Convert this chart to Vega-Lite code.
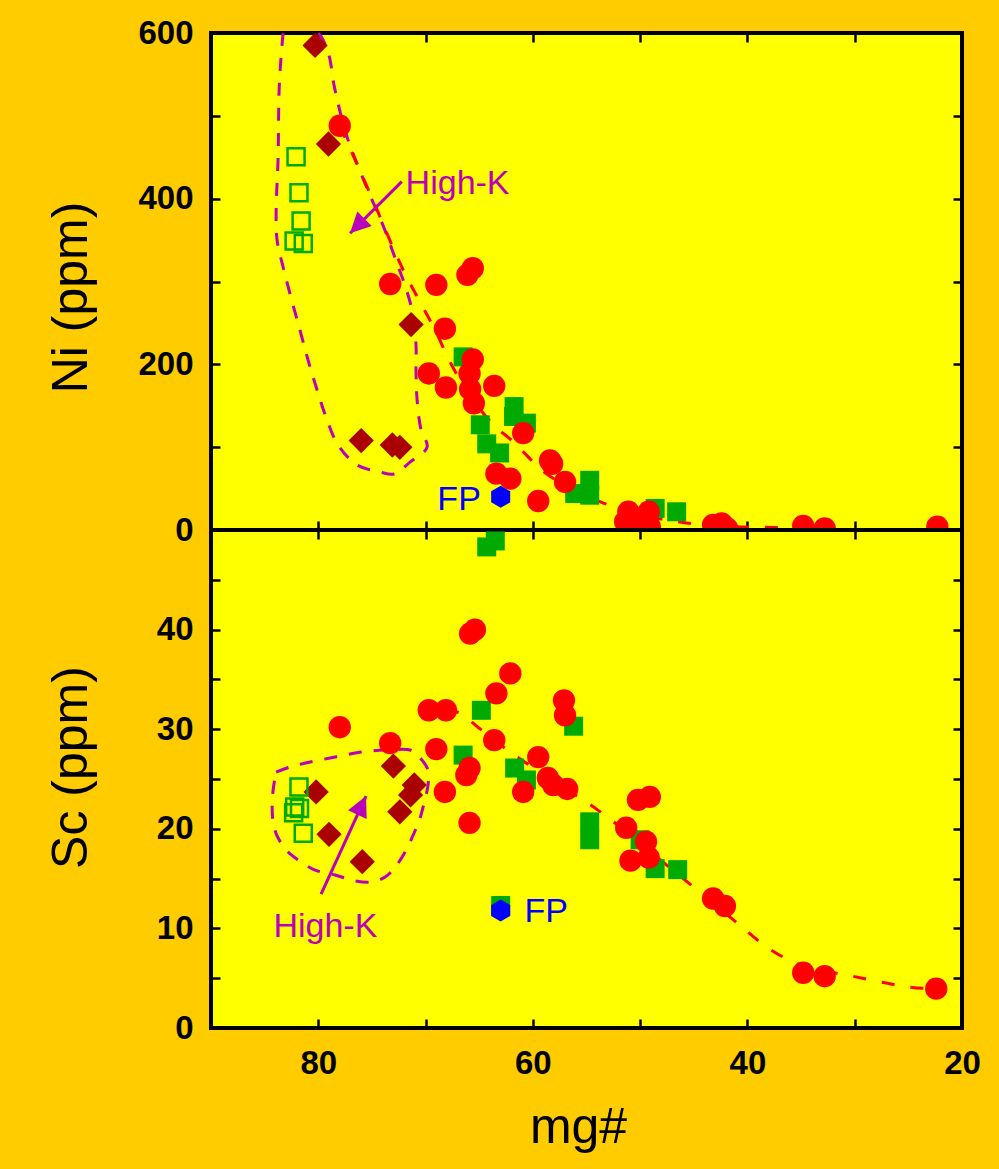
{
  "$schema": "https://vega.github.io/schema/vega-lite/v6.json",
  "autosize": "none",
  "bounds": "flush",
  "padding": {"left": 211, "top": 33, "right": 788, "bottom": 1136},
  "background": "#FFCC00",
  "config": {
    "view": {"fill": "#FFFF00", "stroke": "black", "strokeWidth": 4},
    "concat": {"spacing": 0},
    "axis": {
      "labelFont": "Liberation Sans", "labelFontSize": 33, "labelFontWeight": "bold", "labelColor": "black",
      "tickColor": "black", "tickWidth": 2.5, "tickSize": -9, "domain": false, "grid": false,
      "titleFont": "Liberation Sans", "titleFontSize": 50, "titleFontWeight": "normal", "titleColor": "black",
      "labelPadding": 27, "labelOverlap": false, "labelFlush": false
    }
  },
  "datasets": {
    "ni": [
      {"mg": 66.5, "v": 209, "g": "gs"}, {"mg": 64.9, "v": 127, "g": "gs"}, {"mg": 64.3, "v": 104, "g": "gs"}, {"mg": 63.1, "v": 93, "g": "gs"},
      {"mg": 61.75, "v": 149, "g": "gs"}, {"mg": 61.8, "v": 137, "g": "gs"}, {"mg": 60.6, "v": 129, "g": "gs"}, {"mg": 54.7, "v": 60, "g": "gs"},
      {"mg": 56.1, "v": 44, "g": "gs"}, {"mg": 54.7, "v": 42, "g": "gs"}, {"mg": 48.6, "v": 26, "g": "gs"}, {"mg": 46.6, "v": 22, "g": "gs"},
      {"mg": 80.3, "v": 585, "g": "dm"}, {"mg": 79.05, "v": 466, "g": "dm"}, {"mg": 71.35, "v": 248, "g": "dm"}, {"mg": 76.0, "v": 108, "g": "dm"},
      {"mg": 73.1, "v": 102.6, "g": "dm"}, {"mg": 72.4, "v": 99.8, "g": "dm"},
      {"mg": 78.0, "v": 488, "g": "rc"}, {"mg": 73.3, "v": 297, "g": "rc"}, {"mg": 69.0, "v": 296, "g": "rc"}, {"mg": 66.1, "v": 308, "g": "rc"},
      {"mg": 65.6, "v": 316, "g": "rc"}, {"mg": 68.2, "v": 243, "g": "rc"}, {"mg": 69.7, "v": 189, "g": "rc"}, {"mg": 68.1, "v": 172, "g": "rc"},
      {"mg": 65.6, "v": 206, "g": "rc"}, {"mg": 65.9, "v": 189, "g": "rc"}, {"mg": 65.85, "v": 170, "g": "rc"}, {"mg": 65.5, "v": 153, "g": "rc"},
      {"mg": 63.6, "v": 174, "g": "rc"}, {"mg": 60.9, "v": 117, "g": "rc"}, {"mg": 63.4, "v": 68, "g": "rc"}, {"mg": 62.1, "v": 62, "g": "rc"},
      {"mg": 59.5, "v": 35, "g": "rc"}, {"mg": 58.4, "v": 84, "g": "rc"}, {"mg": 58.2, "v": 80, "g": "rc"}, {"mg": 57.0, "v": 58, "g": "rc"},
      {"mg": 51.1, "v": 22, "g": "rc"}, {"mg": 49.2, "v": 22, "g": "rc"}, {"mg": 51.4, "v": 10, "g": "rc"}, {"mg": 50.0, "v": 8, "g": "rc"},
      {"mg": 49.1, "v": 4, "g": "rc"}, {"mg": 43.2, "v": 6, "g": "rc"}, {"mg": 42.4, "v": 8, "g": "rc"}, {"mg": 41.9, "v": 2, "g": "rc"},
      {"mg": 34.8, "v": 5, "g": "rc"}, {"mg": 32.8, "v": 2, "g": "rc"}, {"mg": 22.3, "v": 4, "g": "rc"},
      {"mg": 63.0, "v": 40, "g": "fp"}
    ],
    "niOpen": [
      {"mg": 82.07, "v": 450.7}, {"mg": 81.8, "v": 407}, {"mg": 81.6, "v": 373}, {"mg": 82.25, "v": 349}, {"mg": 81.4, "v": 346}
    ],
    "sc": [
      {"mg": 64.8, "v": 31.9, "g": "gs"}, {"mg": 66.5, "v": 27.4, "g": "gs"}, {"mg": 61.7, "v": 26.1, "g": "gs"}, {"mg": 60.6, "v": 24.9, "g": "gs"},
      {"mg": 56.2, "v": 30.3, "g": "gs"}, {"mg": 54.7, "v": 20.7, "g": "gs"}, {"mg": 54.7, "v": 18.9, "g": "gs"}, {"mg": 50.0, "v": 18.9, "g": "gs"},
      {"mg": 48.6, "v": 16.0, "g": "gs"}, {"mg": 46.5, "v": 15.9, "g": "gs"}, {"mg": 63.0, "v": 12.3, "g": "gs"},
      {"mg": 63.5, "v": 48.9, "g": "gs"}, {"mg": 64.3, "v": 48.3, "g": "gs"},
      {"mg": 80.2, "v": 23.7, "g": "dm"}, {"mg": 79.0, "v": 19.45, "g": "dm"}, {"mg": 75.9, "v": 16.7, "g": "dm"}, {"mg": 73.0, "v": 26.3, "g": "dm"},
      {"mg": 71.05, "v": 24.4, "g": "dm"}, {"mg": 71.4, "v": 23.4, "g": "dm"}, {"mg": 72.4, "v": 21.7, "g": "dm"},
      {"mg": 78.0, "v": 30.2, "g": "rc"}, {"mg": 73.3, "v": 28.6, "g": "rc"}, {"mg": 69.7, "v": 31.9, "g": "rc"}, {"mg": 68.1, "v": 31.9, "g": "rc"},
      {"mg": 69.0, "v": 28.0, "g": "rc"}, {"mg": 68.2, "v": 23.7, "g": "rc"}, {"mg": 65.85, "v": 39.6, "g": "rc"}, {"mg": 65.4, "v": 40.0, "g": "rc"},
      {"mg": 62.1, "v": 35.6, "g": "rc"}, {"mg": 63.4, "v": 33.6, "g": "rc"}, {"mg": 63.6, "v": 28.9, "g": "rc"}, {"mg": 65.9, "v": 26.1, "g": "rc"},
      {"mg": 66.2, "v": 25.4, "g": "rc"}, {"mg": 65.9, "v": 20.6, "g": "rc"}, {"mg": 59.5, "v": 27.2, "g": "rc"}, {"mg": 60.9, "v": 23.7, "g": "rc"},
      {"mg": 58.6, "v": 25.1, "g": "rc"}, {"mg": 58.1, "v": 24.4, "g": "rc"}, {"mg": 56.8, "v": 24.0, "g": "rc"}, {"mg": 57.1, "v": 32.9, "g": "rc"},
      {"mg": 57.0, "v": 31.4, "g": "rc"}, {"mg": 50.2, "v": 22.9, "g": "rc"}, {"mg": 49.1, "v": 23.2, "g": "rc"}, {"mg": 51.3, "v": 20.1, "g": "rc"},
      {"mg": 49.45, "v": 18.7, "g": "rc"}, {"mg": 50.9, "v": 16.8, "g": "rc"}, {"mg": 49.2, "v": 17.1, "g": "rc"}, {"mg": 43.2, "v": 13.0, "g": "rc"},
      {"mg": 42.1, "v": 12.25, "g": "rc"}, {"mg": 34.8, "v": 5.55, "g": "rc"}, {"mg": 32.8, "v": 5.2, "g": "rc"}, {"mg": 22.4, "v": 3.95, "g": "rc"},
      {"mg": 63.0, "v": 11.8, "g": "fp"}
    ],
    "scOpen": [
      {"mg": 81.8, "v": 24.2}, {"mg": 82.2, "v": 22.2}, {"mg": 81.75, "v": 22.05}, {"mg": 82.3, "v": 21.6}, {"mg": 81.4, "v": 19.55}
    ],
    "niTrend": [
      {"o": 1, "mg": 78.0, "v": 488}, {"o": 2, "mg": 75.2, "v": 407}, {"o": 3, "mg": 71.9, "v": 309}, {"o": 4, "mg": 70.5, "v": 275},
      {"o": 5, "mg": 69.1, "v": 241}, {"o": 6, "mg": 67.8, "v": 205}, {"o": 7, "mg": 64.1, "v": 133}, {"o": 8, "mg": 61.7, "v": 105},
      {"o": 9, "mg": 59.05, "v": 71}, {"o": 10, "mg": 55.9, "v": 47}, {"o": 11, "mg": 53.7, "v": 34}, {"o": 12, "mg": 47.9, "v": 13},
      {"o": 13, "mg": 45.7, "v": 8.5}, {"o": 14, "mg": 40.4, "v": 3.6}, {"o": 15, "mg": 36.5, "v": 3}
    ],
    "scTrend": [
      {"o": 1, "mg": 68.1, "v": 31.9}, {"o": 2, "mg": 67.0, "v": 31.7}, {"o": 3, "mg": 65.0, "v": 30.1}, {"o": 4, "mg": 62.1, "v": 27.7},
      {"o": 5, "mg": 59.8, "v": 26.0}, {"o": 6, "mg": 54.1, "v": 22.0}, {"o": 7, "mg": 46.1, "v": 15.1}, {"o": 8, "mg": 40.9, "v": 10.5},
      {"o": 9, "mg": 38.3, "v": 8.2}, {"o": 10, "mg": 35.7, "v": 6.6}, {"o": 11, "mg": 30.2, "v": 5.2}, {"o": 12, "mg": 27.5, "v": 4.6},
      {"o": 13, "mg": 24.8, "v": 4.1}, {"o": 14, "mg": 22.3, "v": 3.9}
    ],
    "niEnv": [
      {"o": 1, "mg": 83.28, "v": 600}, {"o": 2, "mg": 83.47, "v": 571}, {"o": 3, "mg": 83.65, "v": 531}, {"o": 4, "mg": 83.75, "v": 447},
      {"o": 5, "mg": 83.93, "v": 386}, {"o": 6, "mg": 83.84, "v": 350}, {"o": 7, "mg": 83.28, "v": 317.5}, {"o": 8, "mg": 82.53, "v": 280},
      {"o": 9, "mg": 81.7, "v": 241}, {"o": 10, "mg": 80.95, "v": 205}, {"o": 11, "mg": 80.11, "v": 169}, {"o": 12, "mg": 79.27, "v": 136},
      {"o": 13, "mg": 78.15, "v": 102.6}, {"o": 14, "mg": 76.38, "v": 78.5}, {"o": 15, "mg": 74.24, "v": 70}, {"o": 16, "mg": 72.94, "v": 67.6},
      {"o": 17, "mg": 71.45, "v": 82}, {"o": 18, "mg": 69.86, "v": 100}, {"o": 19, "mg": 70.42, "v": 120.7}, {"o": 20, "mg": 70.79, "v": 157},
      {"o": 21, "mg": 70.89, "v": 190.8}, {"o": 22, "mg": 70.89, "v": 223}, {"o": 23, "mg": 71.17, "v": 259.6}, {"o": 24, "mg": 71.83, "v": 292},
      {"o": 25, "mg": 72.67, "v": 322}, {"o": 26, "mg": 73.79, "v": 362}, {"o": 27, "mg": 75.17, "v": 404}, {"o": 28, "mg": 76.29, "v": 439},
      {"o": 29, "mg": 77.23, "v": 471}, {"o": 30, "mg": 77.97, "v": 505}, {"o": 31, "mg": 78.53, "v": 537}, {"o": 32, "mg": 79.0, "v": 573},
      {"o": 33, "mg": 79.65, "v": 594}, {"o": 34, "mg": 80.0, "v": 600}
    ],
    "scEnv": [
      {"o": 1, "mg": 83.93, "v": 25.7}, {"o": 2, "mg": 82.63, "v": 26.2}, {"o": 3, "mg": 80.76, "v": 26.71}, {"o": 4, "mg": 78.9, "v": 27.11},
      {"o": 5, "mg": 77.04, "v": 27.51}, {"o": 6, "mg": 75.17, "v": 27.81}, {"o": 7, "mg": 73.31, "v": 27.91}, {"o": 8, "mg": 71.45, "v": 27.91},
      {"o": 9, "mg": 70.51, "v": 27.11}, {"o": 10, "mg": 69.77, "v": 25.9}, {"o": 11, "mg": 69.77, "v": 24.4}, {"o": 12, "mg": 70.14, "v": 22.59},
      {"o": 13, "mg": 70.51, "v": 21.08}, {"o": 14, "mg": 71.07, "v": 19.58}, {"o": 15, "mg": 71.91, "v": 17.67}, {"o": 16, "mg": 72.75, "v": 16.27},
      {"o": 17, "mg": 73.77, "v": 15.16}, {"o": 18, "mg": 74.99, "v": 14.66}, {"o": 19, "mg": 76.57, "v": 14.76}, {"o": 20, "mg": 78.43, "v": 15.36},
      {"o": 21, "mg": 80.3, "v": 15.86}, {"o": 22, "mg": 81.88, "v": 16.87}, {"o": 23, "mg": 82.91, "v": 17.77}, {"o": 24, "mg": 83.84, "v": 19.28},
      {"o": 25, "mg": 84.21, "v": 20.68}, {"o": 26, "mg": 84.3, "v": 22.39}, {"o": 27, "mg": 84.21, "v": 23.9}, {"o": 28, "mg": 83.93, "v": 25.7}
    ],
    "niArrow": [{"mg": 72.22, "v": 420.5, "mg2": 77.04, "v2": 358.2}],
    "scArrow": [{"mg": 79.74, "v": 13.45, "mg2": 75.55, "v2": 23.29}],
    "niLabels": [{"mg": 71.86, "v": 418, "g": "High-K"}, {"mg": 68.9, "v": 36.2, "g": "FP"}],
    "scLabels": [{"mg": 84.18, "v": 10.14, "g": "High-K"}, {"mg": 60.79, "v": 11.65, "g": "FP"}]
  },
  "vconcat": [
    {
      "width": 751, "height": 497,
      "resolve": {"axis": {"x": "independent", "y": "independent"}},
      "layer": [
        {
          "data": {"name": "niEnv"},
          "mark": {"type": "line", "color": "#BB00BB", "strokeWidth": 3, "strokeDash": [13, 12], "interpolate": "catmull-rom"},
          "encoding": {
            "x": {"field": "mg", "type": "quantitative", "scale": {"domain": [20, 90], "reverse": true, "nice": false, "zero": false},
                  "axis": {"orient": "bottom", "values": [80, 70, 60, 50, 40, 30], "labels": false, "title": null}},
            "y": {"field": "v", "type": "quantitative", "scale": {"domain": [0, 600], "nice": false, "zero": false},
                  "axis": {"orient": "left", "values": [0, 100, 200, 300, 400, 500, 600], "labelExpr": "datum.value % 200 == 0 ? datum.label : ''",
                           "title": "Ni (ppm)", "titleX": -125, "titleY": 264, "titleAngle": 270, "titleAlign": "center", "titleBaseline": "alphabetic"}},
            "order": {"field": "o", "type": "quantitative"}
          }
        },
        {
          "data": {"name": "niTrend"},
          "mark": {"type": "line", "color": "#FF0000", "strokeWidth": 3, "strokeDash": [13, 16], "interpolate": "monotone"},
          "encoding": {
            "x": {"field": "mg", "type": "quantitative", "axis": {"orient": "top", "values": [80, 70, 60, 50, 40, 30], "labels": false, "title": null}},
            "y": {"field": "v", "type": "quantitative", "axis": {"orient": "right", "values": [0, 100, 200, 300, 400, 500, 600], "labels": false, "title": null}},
            "order": {"field": "o", "type": "quantitative"}
          }
        },
        {
          "data": {"name": "niArrow"},
          "mark": {"type": "rule", "color": "#BB00BB", "strokeWidth": 3},
          "encoding": {
            "x": {"field": "mg", "type": "quantitative", "axis": null}, "y": {"field": "v", "type": "quantitative", "axis": null},
            "x2": {"field": "mg2"}, "y2": {"field": "v2"}
          }
        },
        {
          "data": {"name": "niArrow"},
          "mark": {"type": "point", "shape": "M0,0L-1,2L1,2Z", "size": 420, "filled": true, "color": "#BB00BB", "opacity": 1, "angle": 225},
          "encoding": {
            "x": {"field": "mg2", "type": "quantitative", "axis": null}, "y": {"field": "v2", "type": "quantitative", "axis": null}
          }
        },
        {
          "data": {"name": "ni"},
          "mark": {"type": "point", "filled": true, "opacity": 1},
          "encoding": {
            "x": {"field": "mg", "type": "quantitative", "axis": null}, "y": {"field": "v", "type": "quantitative", "axis": null},
            "color": {"field": "g", "type": "nominal", "legend": null, "scale": {"domain": ["gs", "dm", "rc", "fp", "High-K", "FP"], "range": ["#00AA00", "#AA0000", "#FF0000", "#0000FF", "#BB00BB", "#0000FF"]}},
            "shape": {"field": "g", "type": "nominal", "legend": null, "scale": {"domain": ["gs", "dm", "rc", "fp"], "range": ["square", "diamond", "circle", "M0,-1L0.866,-0.5L0.866,0.5L0,1L-0.866,0.5L-0.866,-0.5Z"]}},
            "size": {"field": "g", "type": "nominal", "legend": null, "scale": {"type": "ordinal", "domain": ["gs", "dm", "rc", "fp"], "range": [361, 640, 500, 484]}}
          }
        },
        {
          "data": {"name": "niOpen"},
          "mark": {"type": "point", "shape": "square", "filled": false, "stroke": "#00AA00", "strokeWidth": 2.5, "size": 289, "opacity": 1},
          "encoding": {
            "x": {"field": "mg", "type": "quantitative", "axis": null}, "y": {"field": "v", "type": "quantitative", "axis": null}
          }
        },
        {
          "data": {"name": "niLabels"},
          "mark": {"type": "text", "align": "left", "baseline": "middle", "font": "Liberation Sans", "fontSize": 34},
          "encoding": {
            "x": {"field": "mg", "type": "quantitative", "axis": null}, "y": {"field": "v", "type": "quantitative", "axis": null},
            "text": {"field": "g"},
            "color": {"field": "g", "type": "nominal", "legend": null, "scale": {"domain": ["gs", "dm", "rc", "fp", "High-K", "FP"], "range": ["#00AA00", "#AA0000", "#FF0000", "#0000FF", "#BB00BB", "#0000FF"]}}
          }
        }
      ]
    },
    {
      "width": 751, "height": 498,
      "resolve": {"axis": {"x": "independent", "y": "independent"}},
      "layer": [
        {
          "data": {"name": "scEnv"},
          "mark": {"type": "line", "color": "#BB00BB", "strokeWidth": 3, "strokeDash": [13, 12], "interpolate": "catmull-rom"},
          "encoding": {
            "x": {"field": "mg", "type": "quantitative", "scale": {"domain": [20, 90], "reverse": true, "nice": false, "zero": false},
                  "axis": {"orient": "bottom", "values": [80, 70, 60, 50, 40, 30, 20], "labelExpr": "datum.value % 20 == 0 ? datum.label : ''",
                           "labelPadding": 28, "title": "mg#", "titleX": 367, "titleY": 114, "titleAlign": "center", "titleBaseline": "alphabetic"}},
            "y": {"field": "v", "type": "quantitative", "scale": {"domain": [0, 50], "nice": false, "zero": false},
                  "axis": {"orient": "left", "values": [0, 5, 10, 15, 20, 25, 30, 35, 40, 45, 50], "labelExpr": "datum.value % 10 == 0 && datum.value < 50 ? datum.label : ''",
                           "title": "Sc (ppm)", "titleX": -125, "titleY": 237, "titleAngle": 270, "titleAlign": "center", "titleBaseline": "alphabetic"}},
            "order": {"field": "o", "type": "quantitative"}
          }
        },
        {
          "data": {"name": "scTrend"},
          "mark": {"type": "line", "color": "#FF0000", "strokeWidth": 3, "strokeDash": [13, 16], "interpolate": "monotone"},
          "encoding": {
            "x": {"field": "mg", "type": "quantitative", "axis": {"orient": "top", "values": [80, 70, 60, 50, 40, 30], "labels": false, "title": null}},
            "y": {"field": "v", "type": "quantitative", "axis": {"orient": "right", "values": [0, 5, 10, 15, 20, 25, 30, 35, 40, 45, 50], "labels": false, "title": null}},
            "order": {"field": "o", "type": "quantitative"}
          }
        },
        {
          "data": {"name": "scArrow"},
          "mark": {"type": "rule", "color": "#BB00BB", "strokeWidth": 3},
          "encoding": {
            "x": {"field": "mg", "type": "quantitative", "axis": null}, "y": {"field": "v", "type": "quantitative", "axis": null},
            "x2": {"field": "mg2"}, "y2": {"field": "v2"}
          }
        },
        {
          "data": {"name": "scArrow"},
          "mark": {"type": "point", "shape": "M0,0L-1,2L1,2Z", "size": 420, "filled": true, "color": "#BB00BB", "opacity": 1, "angle": 25},
          "encoding": {
            "x": {"field": "mg2", "type": "quantitative", "axis": null}, "y": {"field": "v2", "type": "quantitative", "axis": null}
          }
        },
        {
          "data": {"name": "sc"},
          "mark": {"type": "point", "filled": true, "opacity": 1},
          "encoding": {
            "x": {"field": "mg", "type": "quantitative", "axis": null}, "y": {"field": "v", "type": "quantitative", "axis": null},
            "color": {"field": "g", "type": "nominal", "legend": null, "scale": {"domain": ["gs", "dm", "rc", "fp", "High-K", "FP"], "range": ["#00AA00", "#AA0000", "#FF0000", "#0000FF", "#BB00BB", "#0000FF"]}},
            "shape": {"field": "g", "type": "nominal", "legend": null, "scale": {"domain": ["gs", "dm", "rc", "fp"], "range": ["square", "diamond", "circle", "M0,-1L0.866,-0.5L0.866,0.5L0,1L-0.866,0.5L-0.866,-0.5Z"]}},
            "size": {"field": "g", "type": "nominal", "legend": null, "scale": {"type": "ordinal", "domain": ["gs", "dm", "rc", "fp"], "range": [361, 640, 500, 484]}}
          }
        },
        {
          "data": {"name": "scOpen"},
          "mark": {"type": "point", "shape": "square", "filled": false, "stroke": "#00AA00", "strokeWidth": 2.5, "size": 289, "opacity": 1},
          "encoding": {
            "x": {"field": "mg", "type": "quantitative", "axis": null}, "y": {"field": "v", "type": "quantitative", "axis": null}
          }
        },
        {
          "data": {"name": "scLabels"},
          "mark": {"type": "text", "align": "left", "baseline": "middle", "font": "Liberation Sans", "fontSize": 34},
          "encoding": {
            "x": {"field": "mg", "type": "quantitative", "axis": null}, "y": {"field": "v", "type": "quantitative", "axis": null},
            "text": {"field": "g"},
            "color": {"field": "g", "type": "nominal", "legend": null, "scale": {"domain": ["gs", "dm", "rc", "fp", "High-K", "FP"], "range": ["#00AA00", "#AA0000", "#FF0000", "#0000FF", "#BB00BB", "#0000FF"]}}
          }
        }
      ]
    }
  ]
}
